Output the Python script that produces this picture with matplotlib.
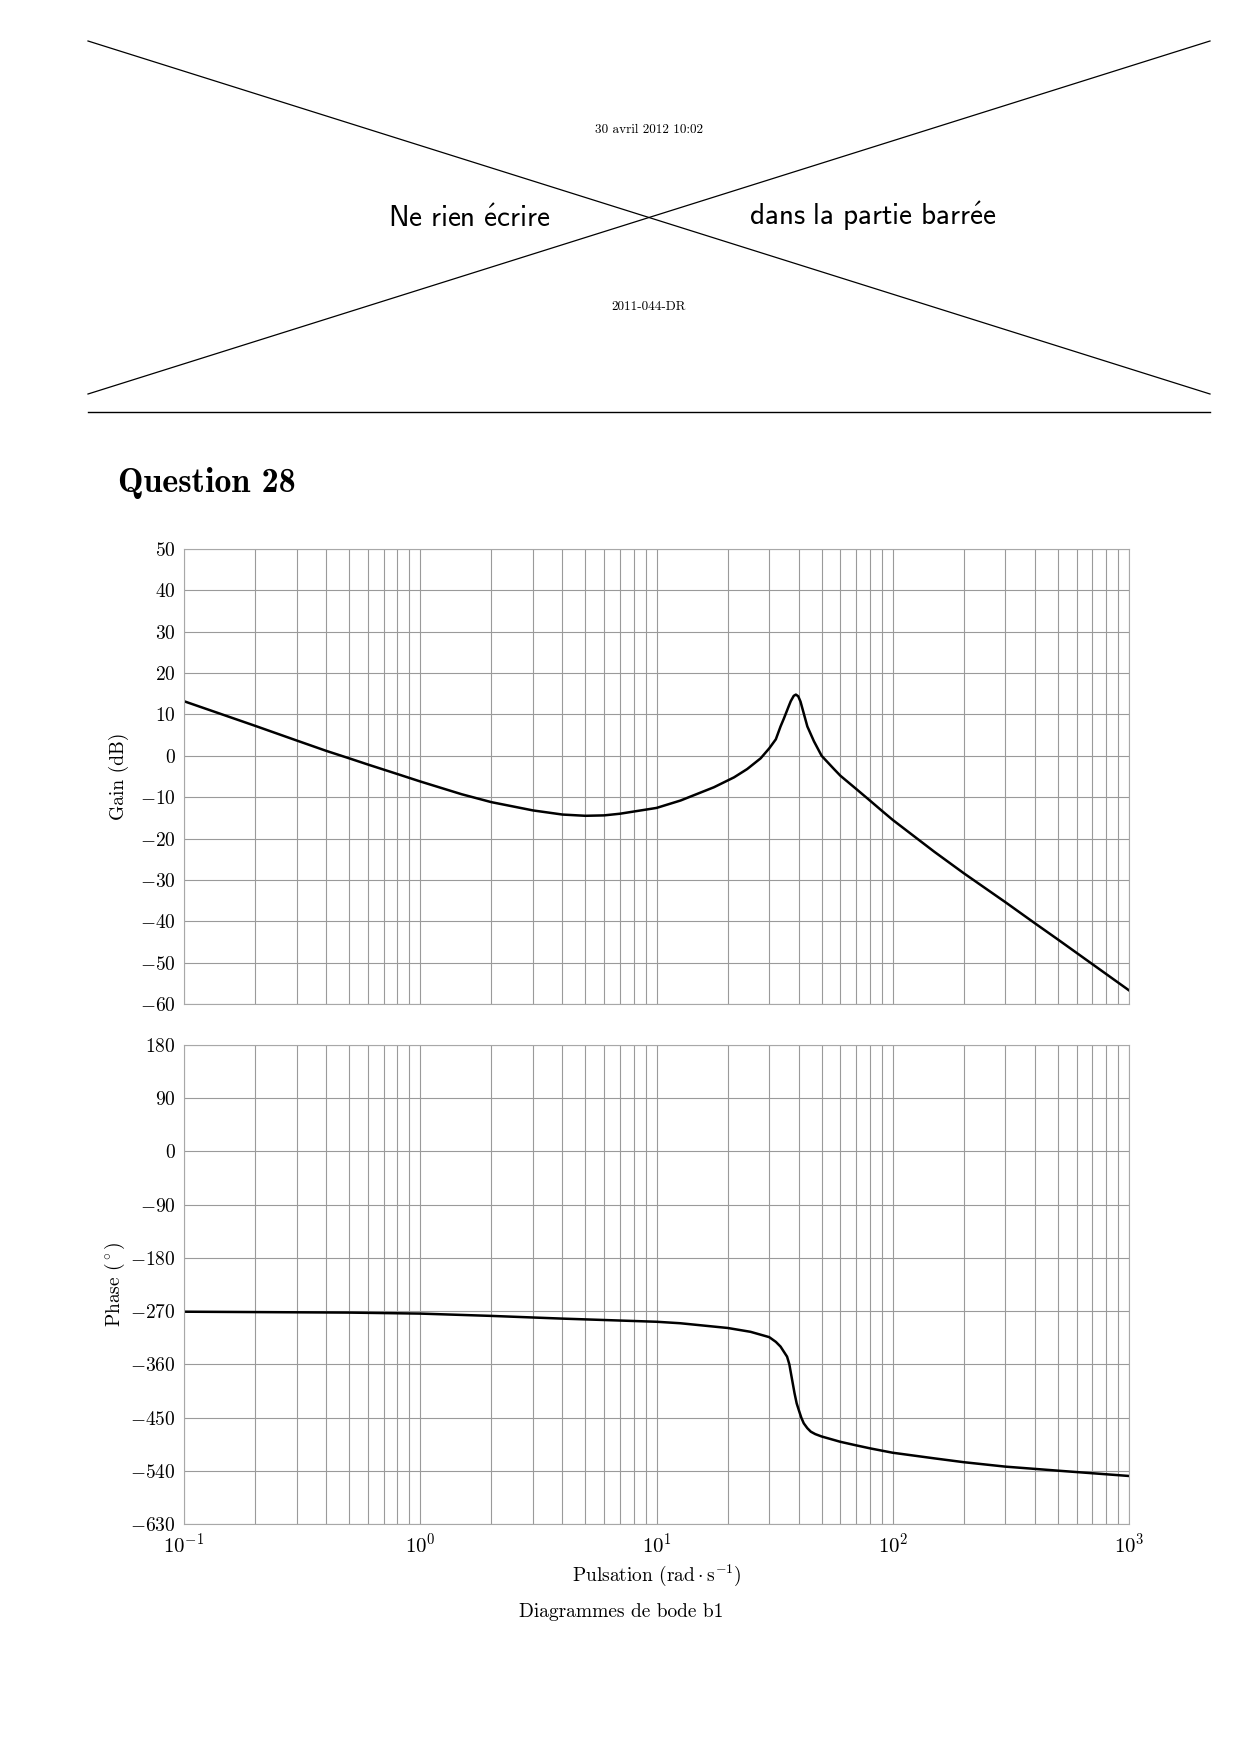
import numpy as np
import matplotlib
matplotlib.use("Agg")
import matplotlib.pyplot as plt
from matplotlib.ticker import FixedLocator, LogLocator, NullFormatter

plt.rcParams["font.family"] = ["cmr10", "DejaVu Serif"]
plt.rcParams["mathtext.fontset"] = "cm"
plt.rcParams["axes.unicode_minus"] = False

# values
w_gain = [0.1, 0.2, 0.3, 0.4, 0.5, 0.6, 0.8, 1.0, 1.5, 2.0, 3.0, 4.0, 5.0, 6.0,
          7.0, 10, 12.65, 17.5, 21.3, 24.2, 27.6, 30, 32, 33.5, 34.6, 36.4, 37,
          38.1, 38.9, 39.8, 40.7, 43.5, 46.4, 50, 56.4, 60, 70, 80, 90, 100,
          150, 200, 300, 400, 500, 1000]
gain_db = [13.2, 7.25, 3.7, 1.2, -0.6, -2.1, -4.4, -6.2, -9.3, -11.2, -13.2,
           -14.2, -14.5, -14.4, -14.0, -12.6, -10.8, -7.6, -5.2, -3.2, -0.6,
           1.8, 4.0, 7.1, 9.0, 12.2, 13.2, 14.5, 14.8, 14.4, 13.1, 7.1, 3.5,
           0.0, -3.2, -4.8, -8.0, -10.8, -13.3, -15.5, -23.2, -28.4, -35.4,
           -40.5, -44.4, -56.7]

w_phase = [0.1, 0.5, 1.0, 2.0, 4.0, 10, 12.6, 20, 25, 30, 32, 33.5, 35.7, 36.5,
           37.3, 38.4, 39.2, 40, 41, 42, 43.5, 45, 47, 50, 60, 70, 80, 90, 100,
           150, 200, 300, 500, 1000]
phase_deg = [-271.0, -272.5, -274.2, -278.1, -282.7, -288.0, -290.5, -298.5,
             -305, -314, -322, -330, -347, -360, -381, -409, -426, -437, -450,
             -459.7, -468, -473.9, -478, -482, -491, -497, -502, -506, -509.5,
             -519, -525.5, -533, -539.8, -548.8]

gain_ticks = list(range(-60, 51, 10))
phase_ticks = list(range(-630, 181, 90))

W, H = 1240, 1754
fig = plt.figure(figsize=(W / 100, H / 100), dpi=100)

# header: crossed-out zone
over = fig.add_axes([0, 0, 1, 1])
over.set_xlim(0, W)
over.set_ylim(H, 0)
over.axis("off")
over.plot([88, 1210], [41, 394], color="k", lw=0.9)
over.plot([88, 1210], [394, 41], color="k", lw=0.9)
over.plot([88, 1210], [412, 412], color="k", lw=1.0)
over.text(649, 130, "30 avril 2012 10:02", ha="center", va="center", fontsize=9.5)
over.text(649, 307, "2011-044-DR", ha="center", va="center", fontsize=9.5)
over.text(469, 219, r"$\mathsf{Ne\ rien\ \acute{e}crire}$", ha="center",
          va="center", fontsize=21)
over.text(873, 216, r"$\mathsf{dans\ la\ partie\ barr\acute{e}e}$", ha="center",
          va="center", fontsize=21)
over.text(118, 483, "Question 28", ha="left", va="center", fontsize=24.5,
          family=["cmb10", "DejaVu Serif"])

left, width = 184 / W, (1129 - 184) / W
ax1 = fig.add_axes([left, 1 - 1004 / H, width, (1004 - 549) / H])
ax2 = fig.add_axes([left, 1 - 1524 / H, width, (1524 - 1045) / H])

grid_c = "#9a9a9a"
for ax, ticks in ((ax1, gain_ticks), (ax2, phase_ticks)):
    ax.set_xscale("log")
    ax.set_xlim(0.1, 1000)
    ax.set_ylim(ticks[0], ticks[-1])
    ax.yaxis.set_major_locator(FixedLocator(ticks))
    ax.set_yticklabels([r"$%d$" % t if t >= 0 else r"$-%d$" % -t for t in ticks])
    ax.xaxis.set_minor_locator(LogLocator(base=10, subs=np.arange(2, 10)))
    ax.xaxis.set_minor_formatter(NullFormatter())
    ax.grid(True, which="both", axis="x", color=grid_c, lw=0.8)
    ax.grid(True, which="major", axis="y", color=grid_c, lw=0.8)
    ax.tick_params(which="both", length=0, labelsize=14, pad=6)
    for s in ax.spines.values():
        s.set_color("#a8a8a8")
        s.set_linewidth(0.8)
    ax.set_axisbelow(True)

ax1.tick_params(axis="x", labelbottom=False)
ax1.plot(w_gain, gain_db, color="k", lw=1.8)
ax2.plot(w_phase, phase_deg, color="k", lw=1.8)

ax1.set_ylabel("Gain (dB)", fontsize=14, labelpad=8)
ax2.set_ylabel(r"Phase $(^\circ)$", fontsize=14, labelpad=2)
ax2.set_xlabel(r"Pulsation $(\mathrm{rad}\cdot\mathrm{s}^{-1})$", fontsize=14,
               labelpad=4)
ax2.tick_params(axis="x", labelsize=15)

over.text(621, 1612, "Diagrammes de bode b1", ha="center", va="center",
          fontsize=14)

fig.savefig("out.png", dpi=100)
